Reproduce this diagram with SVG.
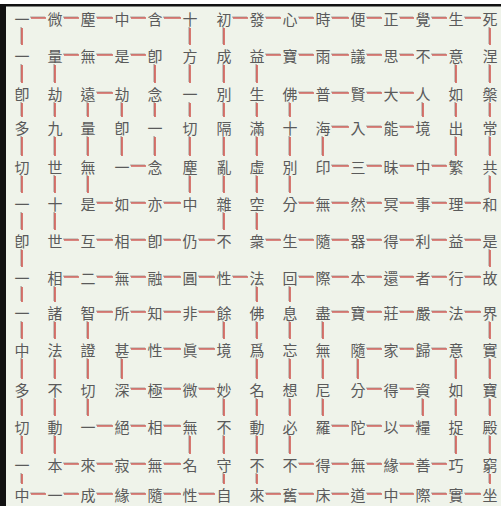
<svg xmlns="http://www.w3.org/2000/svg" xmlns:xlink="http://www.w3.org/1999/xlink" width="501" height="506" viewBox="0 0 501 506">
<style>
.t text{font-family:"Noto Sans CJK TC","Noto Sans CJK SC",sans-serif;font-size:15px;fill:#5a5a5a;text-anchor:middle;dominant-baseline:central}
.ln{fill:none;stroke:#d2625c;stroke-width:1.7}
.sh{fill:none;stroke:#aaa49c;stroke-width:1.4}
</style>
<defs>
<path id="P" d="M31 18H46 M64 18H79 M97 18H113 M131 18H146 M164 18H181 M233 18H248 M266 18H281 M299 18H314 M332 18H349 M367 18H382 M400 18H414 M432 18H447 M465 18H481
M64 55H79 M97 55H113 M131 55H146 M266 55H281 M299 55H314 M332 55H349 M367 55H382 M400 55H414 M432 55H447
M97 93H113 M299 93H314 M332 93H349 M367 93H382 M400 93H414
M332 127H349 M367 127H382 M400 127H414
M131 166H146 M332 166H349 M367 166H382 M400 166H414 M432 166H447
M97 203H113 M131 203H146 M164 203H181 M299 203H314 M332 203H349 M367 203H382 M400 203H414 M432 203H447 M465 203H481
M64 240H79 M97 240H113 M131 240H146 M164 240H181 M199 240H215 M266 240H281 M299 240H314 M332 240H349 M367 240H382 M400 240H414 M432 240H447 M465 240H481
M64 277H79 M97 277H113 M131 277H146 M164 277H181 M199 277H215 M233 277H248 M299 277H314 M332 277H349 M367 277H382 M400 277H414 M432 277H447 M465 277H481
M97 312H113 M131 312H146 M164 312H181 M199 312H215 M332 312H349 M367 312H382 M400 312H414 M432 312H447 M465 312H481
M131 349H146 M164 349H181 M199 349H215 M367 349H382 M400 349H414 M432 349H447
M131 389H146 M164 389H181 M199 389H215 M367 389H382 M400 389H414
M97 426H113 M131 426H146 M164 426H181 M332 426H349 M367 426H382 M400 426H414
M64 464H79 M97 464H113 M131 464H146 M164 464H181 M299 464H314 M332 464H349 M367 464H382 M400 464H414 M432 464H447
M31 494H46 M64 494H79 M97 494H113 M131 494H146 M164 494H181 M199 494H215 M266 494H281 M299 494H314 M332 494H349 M367 494H382 M400 494H414 M432 494H447 M465 494H481
M22 28V45 M22 65V83 M22 103V117 M22 137V156 M22 176V193 M22 213V230 M22 250V267 M22 287V302 M22 322V339 M22 359V379 M22 399V416 M22 436V454 M22 474V484
M55 65V83 M55 103V117 M55 137V156 M55 176V193 M55 213V230 M55 287V302 M55 322V339 M55 359V379 M55 399V416 M55 436V454
M88 103V117 M88 137V156 M88 176V193 M88 322V339 M88 359V379 M88 399V416
M122 103V117 M122 137V156 M122 359V379
M155 65V83 M155 103V117 M155 137V156
M190 28V45 M190 65V83 M190 103V117 M190 137V156 M190 176V193 M190 436V454
M224 28V45 M224 65V83 M224 103V117 M224 137V156 M224 176V193 M224 213V230 M224 322V339 M224 399V416 M224 436V454 M224 474V484
M257 65V83 M257 103V117 M257 137V156 M257 176V193 M257 213V230 M257 287V302 M257 322V339 M257 359V379 M257 399V416 M257 436V454 M257 474V484
M290 103V117 M290 137V156 M290 176V193 M290 287V302 M290 322V339 M290 359V379 M290 399V416 M290 436V454
M323 137V156 M323 322V339 M323 359V379 M323 399V416
M358 359V379
M423 103V117 M423 399V416
M456 65V83 M456 103V117 M456 137V156 M456 359V379 M456 399V416 M456 436V454
M490 28V45 M490 65V83 M490 103V117 M490 137V156 M490 176V193 M490 250V267 M490 322V339 M490 359V379 M490 399V416 M490 436V454 M490 474V484"/>
</defs>
<rect x="0" y="0" width="501" height="506" fill="#eff3ea"/>
<rect x="0" y="0" width="501" height="4" fill="#ffffff"/>
<rect x="0" y="4" width="501" height="2.5" fill="#111"/>
<rect x="0" y="4" width="6" height="502" fill="#111"/>
<g id="connectors">
<use xlink:href="#P" class="sh" transform="translate(-0.9,-0.9)"/>
<use xlink:href="#P" class="ln"/>
</g>
<g class="t">
<g id="r1c1"><text x="22" y="18">一</text></g><g id="r1c2"><text x="55" y="18">微</text></g><g id="r1c3"><text x="88" y="18">塵</text></g><g id="r1c4"><text x="122" y="18">中</text></g><g id="r1c5"><text x="155" y="18">含</text></g><g id="r1c6"><text x="190" y="18">十</text></g><g id="r1c7"><text x="224" y="18">初</text></g><g id="r1c8"><text x="257" y="18">發</text></g><g id="r1c9"><text x="290" y="18">心</text></g><g id="r1c10"><text x="323" y="18">時</text></g><g id="r1c11"><text x="358" y="18">便</text></g><g id="r1c12"><text x="391" y="18">正</text></g><g id="r1c13"><text x="423" y="18">覺</text></g><g id="r1c14"><text x="456" y="18">生</text></g><g id="r1c15"><text x="490" y="18">死</text></g>
<g id="r2c1"><text x="22" y="55">一</text></g><g id="r2c2"><text x="55" y="55">量</text></g><g id="r2c3"><text x="88" y="55">無</text></g><g id="r2c4"><text x="122" y="55">是</text></g><g id="r2c5"><text x="155" y="55">卽</text></g><g id="r2c6"><text x="190" y="55">方</text></g><g id="r2c7"><text x="224" y="55">成</text></g><g id="r2c8"><text x="257" y="55">益</text></g><g id="r2c9"><text x="290" y="55">寶</text></g><g id="r2c10"><text x="323" y="55">雨</text></g><g id="r2c11"><text x="358" y="55">議</text></g><g id="r2c12"><text x="391" y="55">思</text></g><g id="r2c13"><text x="423" y="55">不</text></g><g id="r2c14"><text x="456" y="55">意</text></g><g id="r2c15"><text x="490" y="55">涅</text></g>
<g id="r3c1"><text x="22" y="93">卽</text></g><g id="r3c2"><text x="55" y="93">劫</text></g><g id="r3c3"><text x="88" y="93">遠</text></g><g id="r3c4"><text x="122" y="93">劫</text></g><g id="r3c5"><text x="155" y="93">念</text></g><g id="r3c6"><text x="190" y="93">一</text></g><g id="r3c7"><text x="224" y="93">別</text></g><g id="r3c8"><text x="257" y="93">生</text></g><g id="r3c9"><text x="290" y="93">佛</text></g><g id="r3c10"><text x="323" y="93">普</text></g><g id="r3c11"><text x="358" y="93">賢</text></g><g id="r3c12"><text x="391" y="93">大</text></g><g id="r3c13"><text x="423" y="93">人</text></g><g id="r3c14"><text x="456" y="93">如</text></g><g id="r3c15"><text x="490" y="93">槃</text></g>
<g id="r4c1"><text x="22" y="127">多</text></g><g id="r4c2"><text x="55" y="127">九</text></g><g id="r4c3"><text x="88" y="127">量</text></g><g id="r4c4"><text x="122" y="127">卽</text></g><g id="r4c5"><text x="155" y="127">一</text></g><g id="r4c6"><text x="190" y="127">切</text></g><g id="r4c7"><text x="224" y="127">隔</text></g><g id="r4c8"><text x="257" y="127">滿</text></g><g id="r4c9"><text x="290" y="127">十</text></g><g id="r4c10"><text x="323" y="127">海</text></g><g id="r4c11"><text x="358" y="127">入</text></g><g id="r4c12"><text x="391" y="127">能</text></g><g id="r4c13"><text x="423" y="127">境</text></g><g id="r4c14"><text x="456" y="127">出</text></g><g id="r4c15"><text x="490" y="127">常</text></g>
<g id="r5c1"><text x="22" y="166">切</text></g><g id="r5c2"><text x="55" y="166">世</text></g><g id="r5c3"><text x="88" y="166">無</text></g><g id="r5c4"><text x="122" y="166">一</text></g><g id="r5c5"><text x="155" y="166">念</text></g><g id="r5c6"><text x="190" y="166">塵</text></g><g id="r5c7"><text x="224" y="166">亂</text></g><g id="r5c8"><text x="257" y="166">虛</text></g><g id="r5c9"><text x="290" y="166">別</text></g><g id="r5c10"><text x="323" y="166">印</text></g><g id="r5c11"><text x="358" y="166">三</text></g><g id="r5c12"><text x="391" y="166">昧</text></g><g id="r5c13"><text x="423" y="166">中</text></g><g id="r5c14"><text x="456" y="166">繁</text></g><g id="r5c15"><text x="490" y="166">共</text></g>
<g id="r6c1"><text x="22" y="203">一</text></g><g id="r6c2"><text x="55" y="203">十</text></g><g id="r6c3"><text x="88" y="203">是</text></g><g id="r6c4"><text x="122" y="203">如</text></g><g id="r6c5"><text x="155" y="203">亦</text></g><g id="r6c6"><text x="190" y="203">中</text></g><g id="r6c7"><text x="224" y="203">雜</text></g><g id="r6c8"><text x="257" y="203">空</text></g><g id="r6c9"><text x="290" y="203">分</text></g><g id="r6c10"><text x="323" y="203">無</text></g><g id="r6c11"><text x="358" y="203">然</text></g><g id="r6c12"><text x="391" y="203">冥</text></g><g id="r6c13"><text x="423" y="203">事</text></g><g id="r6c14"><text x="456" y="203">理</text></g><g id="r6c15"><text x="490" y="203">和</text></g>
<g id="r7c1"><text x="22" y="240">卽</text></g><g id="r7c2"><text x="55" y="240">世</text></g><g id="r7c3"><text x="88" y="240">互</text></g><g id="r7c4"><text x="122" y="240">相</text></g><g id="r7c5"><text x="155" y="240">卽</text></g><g id="r7c6"><text x="190" y="240">仍</text></g><g id="r7c7"><text x="224" y="240">不</text></g><g id="r7c8"><text x="257" y="240">衆</text></g><g id="r7c9"><text x="290" y="240">生</text></g><g id="r7c10"><text x="323" y="240">隨</text></g><g id="r7c11"><text x="358" y="240">器</text></g><g id="r7c12"><text x="391" y="240">得</text></g><g id="r7c13"><text x="423" y="240">利</text></g><g id="r7c14"><text x="456" y="240">益</text></g><g id="r7c15"><text x="490" y="240">是</text></g>
<g id="r8c1"><text x="22" y="277">一</text></g><g id="r8c2"><text x="55" y="277">相</text></g><g id="r8c3"><text x="88" y="277">二</text></g><g id="r8c4"><text x="122" y="277">無</text></g><g id="r8c5"><text x="155" y="277">融</text></g><g id="r8c6"><text x="190" y="277">圓</text></g><g id="r8c7"><text x="224" y="277">性</text></g><g id="r8c8"><text x="257" y="277">法</text></g><g id="r8c9"><text x="290" y="277">回</text></g><g id="r8c10"><text x="323" y="277">際</text></g><g id="r8c11"><text x="358" y="277">本</text></g><g id="r8c12"><text x="391" y="277">還</text></g><g id="r8c13"><text x="423" y="277">者</text></g><g id="r8c14"><text x="456" y="277">行</text></g><g id="r8c15"><text x="490" y="277">故</text></g>
<g id="r9c1"><text x="22" y="312">一</text></g><g id="r9c2"><text x="55" y="312">諸</text></g><g id="r9c3"><text x="88" y="312">智</text></g><g id="r9c4"><text x="122" y="312">所</text></g><g id="r9c5"><text x="155" y="312">知</text></g><g id="r9c6"><text x="190" y="312">非</text></g><g id="r9c7"><text x="224" y="312">餘</text></g><g id="r9c8"><text x="257" y="312">佛</text></g><g id="r9c9"><text x="290" y="312">息</text></g><g id="r9c10"><text x="323" y="312">盡</text></g><g id="r9c11"><text x="358" y="312">寶</text></g><g id="r9c12"><text x="391" y="312">莊</text></g><g id="r9c13"><text x="423" y="312">嚴</text></g><g id="r9c14"><text x="456" y="312">法</text></g><g id="r9c15"><text x="490" y="312">界</text></g>
<g id="r10c1"><text x="22" y="349">中</text></g><g id="r10c2"><text x="55" y="349">法</text></g><g id="r10c3"><text x="88" y="349">證</text></g><g id="r10c4"><text x="122" y="349">甚</text></g><g id="r10c5"><text x="155" y="349">性</text></g><g id="r10c6"><text x="190" y="349">眞</text></g><g id="r10c7"><text x="224" y="349">境</text></g><g id="r10c8"><text x="257" y="349">爲</text></g><g id="r10c9"><text x="290" y="349">忘</text></g><g id="r10c10"><text x="323" y="349">無</text></g><g id="r10c11"><text x="358" y="349">隨</text></g><g id="r10c12"><text x="391" y="349">家</text></g><g id="r10c13"><text x="423" y="349">歸</text></g><g id="r10c14"><text x="456" y="349">意</text></g><g id="r10c15"><text x="490" y="349">實</text></g>
<g id="r11c1"><text x="22" y="389">多</text></g><g id="r11c2"><text x="55" y="389">不</text></g><g id="r11c3"><text x="88" y="389">切</text></g><g id="r11c4"><text x="122" y="389">深</text></g><g id="r11c5"><text x="155" y="389">極</text></g><g id="r11c6"><text x="190" y="389">微</text></g><g id="r11c7"><text x="224" y="389">妙</text></g><g id="r11c8"><text x="257" y="389">名</text></g><g id="r11c9"><text x="290" y="389">想</text></g><g id="r11c10"><text x="323" y="389">尼</text></g><g id="r11c11"><text x="358" y="389">分</text></g><g id="r11c12"><text x="391" y="389">得</text></g><g id="r11c13"><text x="423" y="389">資</text></g><g id="r11c14"><text x="456" y="389">如</text></g><g id="r11c15"><text x="490" y="389">寶</text></g>
<g id="r12c1"><text x="22" y="426">切</text></g><g id="r12c2"><text x="55" y="426">動</text></g><g id="r12c3"><text x="88" y="426">一</text></g><g id="r12c4"><text x="122" y="426">絕</text></g><g id="r12c5"><text x="155" y="426">相</text></g><g id="r12c6"><text x="190" y="426">無</text></g><g id="r12c7"><text x="224" y="426">不</text></g><g id="r12c8"><text x="257" y="426">動</text></g><g id="r12c9"><text x="290" y="426">必</text></g><g id="r12c10"><text x="323" y="426">羅</text></g><g id="r12c11"><text x="358" y="426">陀</text></g><g id="r12c12"><text x="391" y="426">以</text></g><g id="r12c13"><text x="423" y="426">糧</text></g><g id="r12c14"><text x="456" y="426">捉</text></g><g id="r12c15"><text x="490" y="426">殿</text></g>
<g id="r13c1"><text x="22" y="464">一</text></g><g id="r13c2"><text x="55" y="464">本</text></g><g id="r13c3"><text x="88" y="464">來</text></g><g id="r13c4"><text x="122" y="464">寂</text></g><g id="r13c5"><text x="155" y="464">無</text></g><g id="r13c6"><text x="190" y="464">名</text></g><g id="r13c7"><text x="224" y="464">守</text></g><g id="r13c8"><text x="257" y="464">不</text></g><g id="r13c9"><text x="290" y="464">不</text></g><g id="r13c10"><text x="323" y="464">得</text></g><g id="r13c11"><text x="358" y="464">無</text></g><g id="r13c12"><text x="391" y="464">緣</text></g><g id="r13c13"><text x="423" y="464">善</text></g><g id="r13c14"><text x="456" y="464">巧</text></g><g id="r13c15"><text x="490" y="464">窮</text></g>
<g id="r14c1"><text x="22" y="494">中</text></g><g id="r14c2"><text x="55" y="494">一</text></g><g id="r14c3"><text x="88" y="494">成</text></g><g id="r14c4"><text x="122" y="494">緣</text></g><g id="r14c5"><text x="155" y="494">隨</text></g><g id="r14c6"><text x="190" y="494">性</text></g><g id="r14c7"><text x="224" y="494">自</text></g><g id="r14c8"><text x="257" y="494">來</text></g><g id="r14c9"><text x="290" y="494">舊</text></g><g id="r14c10"><text x="323" y="494">床</text></g><g id="r14c11"><text x="358" y="494">道</text></g><g id="r14c12"><text x="391" y="494">中</text></g><g id="r14c13"><text x="423" y="494">際</text></g><g id="r14c14"><text x="456" y="494">實</text></g><g id="r14c15"><text x="490" y="494">坐</text></g>
</g>
</svg>
